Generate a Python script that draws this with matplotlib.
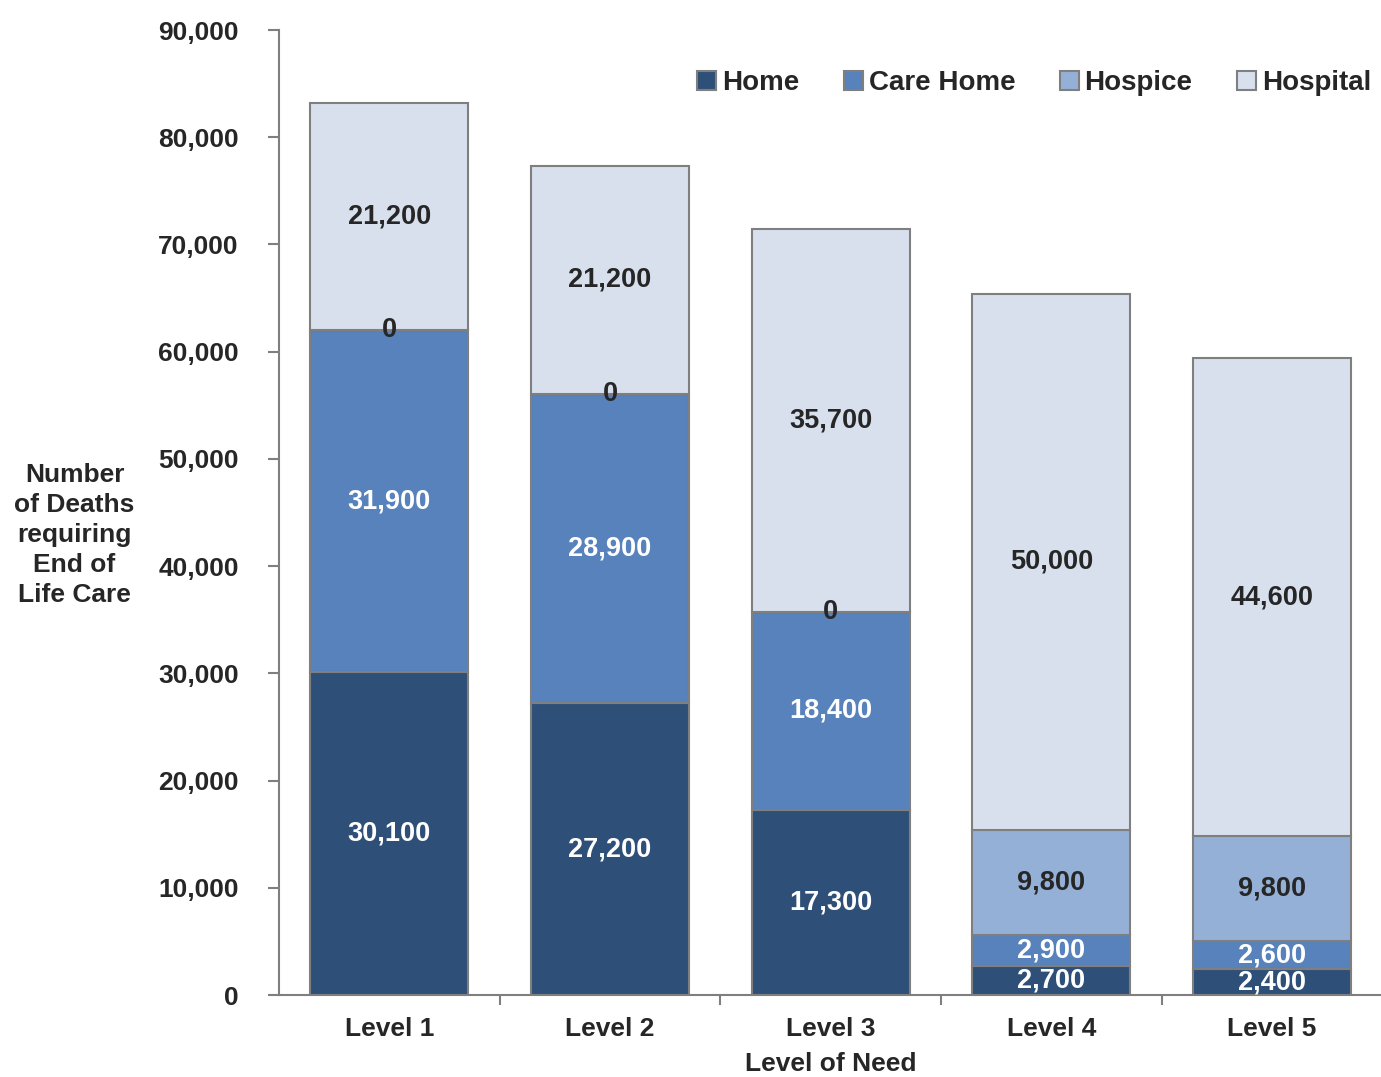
import matplotlib.pyplot as plt
import numpy as np

plt.rcParams['font.family'] = ['Liberation Sans', 'DejaVu Sans']
plt.rcParams['font.weight'] = 'bold'

levels = ['Level 1', 'Level 2', 'Level 3', 'Level 4', 'Level 5']
home = [30100, 27200, 17300, 2700, 2400]
care_home = [31900, 28900, 18400, 2900, 2600]
hospice = [0, 0, 0, 9800, 9800]
hospital = [21200, 21200, 35700, 50000, 44600]

series = [('Home', home, '#2E4F77', 'white'),
          ('Care Home', care_home, '#5882BC', 'white'),
          ('Hospice', hospice, '#95B0D6', '#262626'),
          ('Hospital', hospital, '#D8E0EE', '#262626')]

fig = plt.figure(figsize=(13.81, 10.77), dpi=100)
ax = fig.add_axes([0.202, 0.0761, 0.799, 0.896])

x = np.arange(len(levels))
bottom = np.zeros(len(levels))
for name, vals, col, tcol in series:
    vals = np.array(vals, dtype=float)
    ax.bar(x, vals, 0.715, bottom=bottom, color=col, edgecolor='#7F7F7F',
           linewidth=1.5, label=name)
    for xi, b, v in zip(x, bottom, vals):
        ax.text(xi, b + v / 2, f'{int(v):,}', ha='center', va='center',
                fontsize=19.5, fontweight='bold', color=tcol if v > 0 else '#262626')
    bottom += vals

ax.set_xlim(-0.5, 4.5)
ax.set_ylim(0, 90000)
ax.set_yticks(np.arange(0, 90001, 10000))
ax.set_yticklabels([f'{v:,}' for v in range(0, 90001, 10000)])
ax.set_xticks(x)
ax.set_xticklabels(levels)
ax.set_xticks(np.arange(0.5, 4.5, 1), minor=True)
ax.tick_params(axis='x', which='major', length=0, pad=16, labelsize=19, labelcolor='#262626')
ax.tick_params(axis='x', which='minor', length=7, color='#7F7F7F', width=1.5)
ax.tick_params(axis='y', length=8, color='#7F7F7F', width=1.5, pad=21,
               labelsize=19, labelcolor='#262626')
for s in ['top', 'right']:
    ax.spines[s].set_visible(False)
for s in ['left', 'bottom']:
    ax.spines[s].set_color('#7F7F7F')
    ax.spines[s].set_linewidth(1.5)

ax.set_xlabel('Level of Need', fontsize=19, fontweight='bold', color='#262626', labelpad=8)
fig.text(0.054, 0.503, 'Number\nof Deaths\nrequiring\nEnd of\nLife Care', ha='center',
         va='center', fontsize=19, fontweight='bold', color='#262626', linespacing=1.32)

leg = ax.legend(ncol=4, loc='upper right', bbox_to_anchor=(1.0, 0.97), frameon=False,
                fontsize=20, handlelength=0.7, handleheight=0.7, handletextpad=0.2,
                columnspacing=1.6, borderaxespad=0.0)
for t in leg.get_texts():
    t.set_color('#262626')

fig.savefig('out.png', dpi=100)
